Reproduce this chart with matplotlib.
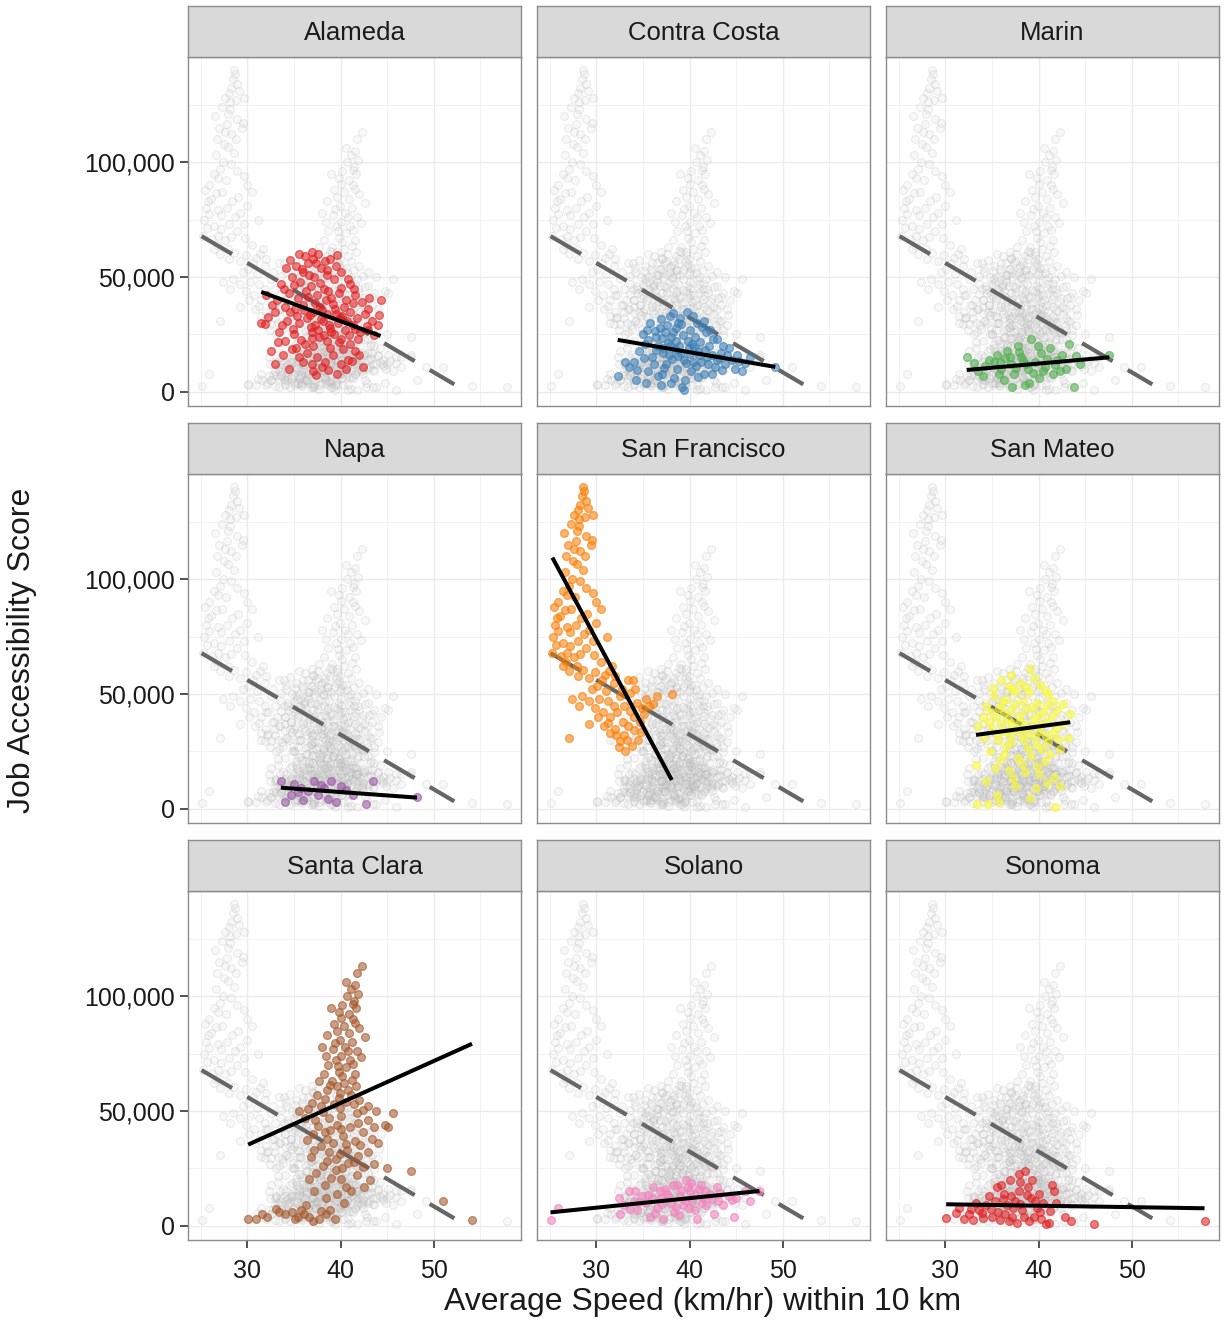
import numpy as np
import matplotlib.pyplot as plt
from matplotlib.ticker import FuncFormatter, FixedLocator

plt.rcParams['font.family'] = ['Liberation Sans', 'DejaVu Sans']

# county order as in the facets
counties = ['Alameda', 'Contra Costa', 'Marin', 'Napa', 'San Francisco',
            'San Mateo', 'Santa Clara', 'Solano', 'Sonoma']
county_colors = ['#E41A1C', '#377EB8', '#4DAF4A', '#984EA3', '#FF7F00',
                 '#FFFF33', '#A65628', '#F781BF', '#E41A1C']

# (average speed km/hr, job accessibility score in thousands)
alameda_pts = [
    (35.5, 60), (36.2, 59), (37.0, 58), (37.6, 60), (38.3, 57), (36.5, 56), (35.2, 55), (38.9, 58),
    (39.5, 55), (37.9, 54), (36.0, 52), (34.8, 50), (38.5, 51), (40.1, 52), (39.3, 49), (37.2, 50),
    (35.7, 48), (36.8, 46), (33.6, 47), (41.0, 47), (32.0, 42), (33.2, 40), (34.5, 43), (35.4, 41),
    (36.3, 44), (37.5, 42), (38.2, 45), (39.0, 41), (39.8, 43), (40.6, 40), (41.5, 42), (42.3, 39),
    (43.1, 41), (44.3, 40), (34.0, 37), (35.1, 36), (36.0, 38), (37.0, 35), (37.8, 37), (38.6, 34),
    (39.4, 36), (40.2, 33), (41.0, 35), (41.8, 32), (42.6, 34), (43.4, 31), (44.0, 29), (33.0, 35),
    (31.5, 30), (31.9, 29.5), (34.3, 31), (35.5, 30), (36.4, 32), (37.3, 29), (38.1, 31), (38.9, 28),
    (39.7, 30), (40.5, 27), (41.3, 29), (42.1, 26), (43.0, 27), (36.9, 26), (37.7, 24), (38.5, 22),
    (39.3, 25), (40.1, 23), (41.0, 21), (35.0, 25), (34.0, 22), (36.2, 21), (32.5, 18), (33.8, 16),
    (35.2, 19), (36.4, 17), (37.5, 15), (38.3, 13), (39.2, 16), (40.0, 12), (40.8, 14), (42.4, 11),
    (33.0, 12), (34.5, 10), (36.0, 13), (37.0, 9), (39.6, 8), (38.0, 11), (41.5, 18),
    (36.7, 33.4), (37.9, 31.8), (38.8, 29.3), (39.9, 32.6), (40.7, 30.9), (41.6, 27.4), (42.8, 28.7),
    (37.3, 38.6), (38.4, 40.2), (39.2, 38.1), (40.4, 36.9), (41.3, 38.8), (36.1, 35.7), (35.3, 33.2),
    (34.6, 34.8), (33.7, 29.1), (34.9, 27.6), (36.8, 28.3), (37.6, 26.9), (38.2, 24.9), (39.0, 26.2),
    (40.9, 24.6), (41.9, 23.1), (43.6, 24.8), (44.1, 33.6), (42.9, 36.2), (40.1, 45.3), (41.4, 44.6),
    (38.7, 43.8), (37.8, 47.4), (36.6, 50.9), (35.9, 53.7), (37.4, 56.3), (38.6, 53.2), (34.2, 53.8),
    (33.9, 44.6), (32.7, 37.9), (32.2, 32.4), (33.4, 26.3), (35.8, 22.7), (37.1, 19.8), (38.9, 19.2),
    (40.3, 18.6), (39.8, 21.7), (36.9, 23.4), (35.6, 15.4), (36.9, 12.1), (38.7, 9.6), (37.4, 7.2),
    (40.6, 9.8), (41.2, 13.6), (42.0, 15.9), (33.3, 21.8), (34.8, 18.9), (39.5, 33.9), (38.0, 35.8),
    (36.5, 41.2), (35.0, 46.4), (40.8, 49.1), (39.6, 59.7), (36.9, 61.0), (34.6, 57.4),
]
contra_costa_pts = [
    (32.3, 7), (33.5, 11), (34.0, 13), (34.6, 18), (35.2, 21), (35.6, 9), (36.0, 15), (36.4, 24),
    (36.8, 28), (37.2, 19), (37.5, 12), (37.9, 33), (38.2, 26), (38.5, 22), (38.8, 30), (39.1, 17),
    (39.4, 14), (39.7, 35), (40.0, 27), (40.3, 21), (40.6, 24), (40.9, 18), (41.2, 13), (41.5, 31),
    (41.8, 26), (42.1, 20), (42.4, 16), (42.7, 11), (43.0, 23), (43.4, 17), (43.8, 12), (44.2, 19),
    (44.6, 14), (45.1, 16), (45.6, 9), (46.5, 15), (49.2, 11), (35.0, 25), (35.8, 30), (36.6, 20),
    (37.0, 8), (37.8, 16), (38.3, 6), (38.7, 10), (39.2, 2), (39.5, 5), (40.2, 9), (40.8, 30),
    (41.6, 8), (42.2, 27), (38.0, 24), (39.9, 19), (41.0, 16), (36.2, 12), (37.4, 26), (38.9, 20),
    (34.3, 5), (35.3, 4), (36.9, 3), (40.4, 13), (43.6, 20), (44.9, 10), (39.0, 32), (37.6, 29),
    (42.9, 14),
    (36.3, 26.7), (37.1, 23.6), (37.7, 21.2), (38.4, 18.7), (38.6, 27.9), (39.3, 24.8), (39.8, 22.3),
    (40.5, 19.6), (40.1, 16.4), (41.1, 21.7), (41.7, 18.4), (42.5, 22.9), (43.2, 14.8), (42.0, 12.3),
    (40.7, 11.2), (39.6, 12.8), (38.1, 14.2), (37.2, 16.9), (36.4, 18.3), (35.6, 22.4), (35.4, 27.1),
    (36.9, 31.6), (38.2, 34.3), (40.4, 33.2), (41.3, 28.2), (39.1, 29.6), (37.9, 20.1), (38.8, 15.6),
    (41.9, 15.2), (44.0, 15.9), (45.3, 13.4), (46.0, 12.7), (43.5, 9.7), (33.1, 13.2), (34.4, 9.6),
    (35.1, 14.8), (36.6, 7.1), (38.0, 3.9), (39.4, 0.8), (40.9, 6.6), (42.4, 7.8), (37.3, 10.3),
]
marin_pts = [
    (32.3, 15), (33.5, 9), (34.0, 7), (34.7, 14), (35.2, 13), (35.5, 16), (36.0, 10), (36.3, 5),
    (36.6, 18), (37.0, 12), (37.4, 8), (37.8, 20), (38.1, 15), (38.5, 3), (38.9, 10), (39.2, 23),
    (39.6, 13), (40.0, 6), (40.3, 17), (40.7, 11), (41.2, 19), (41.6, 8), (42.0, 14), (42.5, 16),
    (43.0, 10), (43.3, 21), (43.8, 2), (44.5, 12), (47.6, 16), (35.8, 8), (37.2, 2), (39.0, 4),
    (40.5, 9), (38.3, 14), (36.9, 15),
    (33.1, 12.4), (34.3, 11.2), (35.9, 12.9), (36.4, 14.7), (37.6, 10.6), (38.7, 12.3), (39.4, 8.1),
    (40.9, 14.3), (41.8, 11.7), (42.3, 9.2), (44.0, 15.6), (37.9, 17.3), (39.9, 19.8),
]
napa_pts = [
    (33.6, 12), (34.0, 3), (34.7, 6), (35.0, 11), (35.8, 9), (36.5, 8), (37.2, 12), (37.6, 6),
    (38.2, 9), (39.0, 12), (39.5, 3), (40.1, 10), (41.3, 6), (42.7, 2), (43.5, 12), (48.2, 5),
    (36.0, 4), (35.4, 7.2), (37.9, 10.6), (38.7, 4.4), (40.6, 8.1),
]
san_francisco_pts = [
    (28.6, 140), (28.5, 136), (28.9, 134), (28.3, 132), (28.0, 130), (29.7, 128), (27.6, 128),
    (28.8, 127), (27.3, 124), (28.1, 123), (27.9, 121), (26.5, 120), (29.5, 117), (29.4, 115),
    (27.0, 115), (28.3, 112), (26.8, 110), (28.8, 110), (27.5, 108), (28.6, 104), (26.7, 103),
    (27.4, 100), (28.3, 99), (27.1, 97), (28.9, 96), (26.4, 95), (27.7, 92), (30.0, 90), (25.5, 88),
    (30.5, 87), (29.0, 85), (26.1, 84), (25.8, 83), (27.8, 80), (29.2, 78), (28.7, 76), (31.2, 75),
    (25.4, 75), (26.4, 72), (27.2, 71), (28.0, 73), (28.9, 70), (25.3, 68), (26.9, 68), (27.6, 66),
    (29.8, 67), (30.5, 64), (31.7, 62), (26.4, 62), (27.1, 60), (28.0, 58), (29.2, 57), (30.6, 56),
    (31.4, 60), (32.0, 58), (33.4, 56), (34.2, 52), (33.9, 56), (29.5, 52), (28.5, 49), (27.4, 48),
    (30.3, 48), (31.3, 47), (32.5, 49), (33.0, 45), (34.4, 46), (35.3, 48), (36.5, 49), (38.1, 50),
    (35.7, 45), (34.9, 44), (30.7, 42), (31.5, 40), (32.2, 42), (32.9, 38), (33.4, 36), (34.0, 40),
    (34.7, 38), (29.2, 37), (30.8, 36), (31.5, 33), (32.1, 32), (33.0, 32), (33.3, 30), (34.5, 30),
    (32.4, 27), (33.1, 25), (27.1, 31), (32.0, 35), (29.9, 44), (25.9, 90), (27.3, 87), (28.4, 83),
    (30.0, 81), (26.9, 79), (25.6, 80),
    (25.7, 71.4), (26.2, 66.5), (26.8, 64.1), (27.9, 62.3), (28.6, 60.4), (29.9, 59.6), (30.9, 58.2),
    (31.9, 54.6), (32.8, 52.1), (33.6, 50.4), (30.1, 53.4), (31.0, 51.1), (29.2, 47.1), (31.9, 44.8),
    (33.6, 42.6), (35.1, 41.4), (36.1, 45.8), (34.1, 34.2), (31.3, 37.6), (30.2, 39.9), (28.2, 44.6),
    (32.6, 29.6), (33.8, 27.4), (34.8, 33.6), (27.2, 76.8), (26.6, 86.4), (29.6, 73.2), (28.3, 67.2),
    (25.9, 77.6), (27.6, 113.2), (28.9, 118.6), (27.9, 106.5), (28.2, 126.1), (29.1, 130.8),
    (28.7, 138.1), (27.8, 116.4), (26.9, 93.2), (29.6, 93.8),
]
san_mateo_pts = [
    (39.1, 61), (39.5, 57), (36.0, 56), (38.0, 55), (40.2, 54), (37.2, 52), (39.0, 51), (41.0, 50),
    (35.2, 49), (36.5, 48), (38.3, 47), (39.8, 46), (41.6, 47), (34.4, 45), (35.8, 44), (37.0, 43),
    (38.6, 43), (40.5, 42), (42.0, 43), (34.0, 40), (35.4, 40), (36.7, 39), (38.0, 38), (39.4, 39),
    (40.8, 38), (42.5, 37), (33.5, 36), (35.0, 35), (36.2, 34), (37.5, 35), (39.0, 33), (40.2, 34),
    (41.5, 33), (43.2, 31), (34.2, 31), (35.7, 30), (37.0, 29), (38.4, 30), (39.8, 28), (41.0, 29),
    (42.3, 26), (34.8, 25), (36.3, 24), (37.8, 22), (39.2, 23), (40.7, 21), (33.3, 19), (35.3, 18),
    (36.8, 17), (38.5, 16), (40.0, 15), (41.7, 14), (37.5, 10), (39.7, 9), (35.5, 6), (33.4, 2),
    (34.6, 2), (35.8, 3), (41.8, 1), (42.3, 10),
    (35.1, 52.6), (36.8, 53.4), (37.6, 50.7), (38.7, 52.9), (40.7, 51.6), (36.1, 46.1), (37.5, 45.5),
    (39.3, 44.2), (40.9, 45.4), (42.6, 45.8), (34.9, 42.1), (36.3, 41.8), (37.9, 40.6), (39.9, 40.9),
    (41.4, 40.4), (43.4, 41.2), (34.7, 37.7), (36.0, 36.8), (37.1, 37.2), (38.7, 36.1), (40.1, 36.7),
    (41.9, 35.6), (35.5, 32.8), (36.9, 32.1), (38.1, 32.6), (39.6, 31.4), (40.8, 31.7), (42.1, 30.4),
    (36.5, 27.6), (38.9, 26.4), (40.4, 26.1), (35.9, 21.4), (38.2, 19.6), (39.8, 18.7), (41.2, 23.7),
    (37.3, 13.3), (34.4, 12.1), (40.9, 11.4), (39.1, 4.6), (37.0, 58.3),
]
santa_clara_pts = [
    (42.3, 113), (41.8, 110), (41.5, 105), (41.1, 103), (41.9, 101), (40.7, 100), (41.4, 98),
    (40.2, 96), (41.7, 95), (39.0, 95), (39.8, 93), (40.9, 92), (41.3, 90), (39.3, 88), (40.4, 87),
    (39.6, 85), (40.9, 84), (42.0, 86), (42.6, 82), (38.6, 83), (39.9, 81), (41.2, 80), (40.5, 78),
    (39.2, 77), (38.0, 78), (41.8, 76), (40.1, 74), (39.5, 72), (41.0, 72), (38.7, 70), (40.6, 69),
    (39.8, 67), (41.5, 66), (38.2, 66), (37.7, 63), (39.1, 63), (40.4, 62), (41.7, 61), (38.6, 59),
    (39.9, 58), (41.1, 57), (37.5, 57), (42.0, 55), (40.6, 54), (39.3, 53), (37.9, 52), (36.5, 51),
    (35.5, 50), (42.9, 52), (43.8, 50), (45.6, 49), (41.8, 49), (40.1, 48), (38.8, 47), (37.3, 46),
    (36.2, 47), (43.0, 46), (44.8, 44), (45.1, 43), (39.6, 44), (41.0, 43), (42.4, 41), (38.3, 41),
    (37.0, 40), (40.3, 39), (43.4, 38), (41.6, 37), (39.2, 36), (44.0, 36), (37.9, 35), (38.8, 32),
    (40.7, 33), (42.9, 32), (36.8, 30), (39.5, 29), (41.4, 28), (43.6, 27), (38.1, 26), (40.2, 25),
    (45.0, 25), (47.6, 24), (37.4, 23), (39.0, 21), (41.8, 22), (43.2, 20), (38.3, 18), (40.6, 17),
    (42.5, 17), (37.2, 15), (39.6, 14), (51.0, 11), (30.1, 3), (30.9, 3), (31.6, 5), (32.1, 4),
    (33.4, 6), (34.0, 5), (34.8, 6), (35.4, 4), (36.1, 5), (36.6, 4), (37.1, 2), (37.7, 3),
    (38.4, 5), (39.4, 3), (54.1, 2.6), (35.8, 7), (36.3, 9), (38.9, 7),
    (40.6, 106.1), (41.3, 96.7), (40.0, 90.4), (41.6, 88.1), (39.4, 79.6), (40.8, 76.2), (42.2, 73.3),
    (38.4, 74.1), (39.7, 69.8), (41.3, 70.4), (40.2, 65.1), (38.9, 61.5), (41.2, 63.6), (39.6, 60.9),
    (40.8, 59.3), (38.3, 55.2), (39.8, 55.7), (41.4, 53.1), (36.9, 53.6), (38.1, 49.7), (39.9, 51.2),
    (42.4, 50.3), (37.6, 43.3), (38.9, 41.7), (40.1, 42.1), (41.9, 44.6), (43.6, 43.1), (36.4, 37.6),
    (38.6, 37.9), (40.6, 35.8), (42.1, 35.1), (37.2, 33.2), (39.9, 31.1), (41.9, 30.6), (38.6, 28.1),
    (40.8, 27.2), (42.4, 25.6), (39.5, 24.4), (36.6, 20.4), (40.1, 20.3), (41.1, 15.3), (38.4, 12.1),
    (40.4, 9.8), (33.1, 7.4), (35.1, 3.1), (37.9, 6.6),
]
solano_pts = [
    (25.1, 2.6), (25.9, 7.7), (32.4, 12), (32.6, 5), (33.0, 9), (33.5, 15), (34.0, 11), (34.4, 7),
    (34.9, 13), (35.3, 10), (35.8, 4), (36.1, 17), (36.5, 8), (36.9, 12), (37.2, 3), (37.6, 14),
    (38.0, 10), (38.3, 6), (38.7, 18), (39.0, 13), (39.3, 9), (39.6, 20), (40.0, 15), (40.3, 11),
    (40.6, 7), (41.0, 16), (41.4, 12), (41.8, 9), (42.2, 14), (42.6, 5), (43.1, 11), (43.6, 9),
    (44.2, 13), (45.0, 12), (45.9, 15), (46.5, 11), (47.5, 15), (38.2, 18), (39.8, 17), (37.4, 16),
    (41.2, 18), (44.8, 4), (40.8, 3), (36.0, 12), (34.2, 15),
    (33.6, 7.2), (34.6, 10.4), (35.6, 13.6), (36.3, 5.6), (36.8, 15.3), (37.8, 12.4), (38.5, 8.3),
    (39.1, 15.6), (39.5, 11.1), (40.2, 18.9), (40.6, 13.5), (41.3, 9.8), (41.7, 15.4), (42.4, 11.8),
    (43.3, 14.2), (44.6, 11.3), (38.9, 4.6), (37.0, 9.6), (42.9, 17.1), (39.9, 7.9),
]
sonoma_pts = [
    (30.1, 3.6), (31.5, 8), (32.0, 3), (32.5, 5), (33.0, 2.5), (33.6, 7), (34.0, 3.5), (34.4, 9),
    (35.0, 4), (35.3, 11), (35.7, 6), (36.0, 18), (36.3, 14), (36.6, 9), (36.9, 20), (37.2, 4),
    (37.5, 11), (37.9, 15), (38.2, 7), (38.6, 24), (38.9, 17), (39.2, 12), (39.5, 4), (39.8, 8),
    (40.1, 14), (40.5, 10), (40.8, 1), (41.1, 1.5), (41.4, 18), (41.7, 15), (41.9, 10), (42.8, 4),
    (43.5, 2), (46.0, 1), (57.8, 2), (35.5, 17), (34.7, 13), (36.8, 2), (37.7, 1.5), (38.0, 19),
    (33.3, 10), (40.2, 6), (39.0, 2), (37.0, 13), (38.4, 4),
    (31.2, 5.6), (32.8, 7.3), (33.9, 5.8), (34.9, 7.4), (35.9, 2.8), (36.4, 5.4), (37.3, 7.9),
    (38.0, 9.6), (38.8, 13.4), (39.6, 10.7), (40.3, 2.9), (41.2, 6.7), (36.2, 11.6), (37.9, 22.4),
    (39.3, 19.8),
]
county_pts = [alameda_pts, contra_costa_pts, marin_pts, napa_pts, san_francisco_pts,
              san_mateo_pts, santa_clara_pts, solano_pts, sonoma_pts]

# linear fits per county (intercept and slope, thousands of jobs)
fit_intercept = [90.6, 45.1, -2.09, 19.21, 300.5, 14.04, -19.6, -4.5, 11.34]
fit_slope = [-1.495, -0.695, 0.361, -0.296, -7.556, 0.546, 1.827, 0.415, -0.063]

# region-wide fit (dashed)
overall_intercept = 127.5
overall_slope = -2.379
overall_span = [25.1, 52.2]

x_ticks = [30, 40, 50]
y_ticks = [0, 50000, 100000]

W, H = 1225, 1323
fig = plt.figure(figsize=(W / 100, H / 100), dpi=100)

col_left = [188, 537, 886]
panel_top = [57, 474, 891]
panel_w, panel_h, strip_h = 333, 349, 51

all_pts = np.array([p for pts in county_pts for p in pts])
all_x = all_pts[:, 0]
all_y = all_pts[:, 1] * 1000

ox = np.array(overall_span)
oy = (overall_intercept + overall_slope * ox) * 1000

for i, name in enumerate(counties):
    r, c = divmod(i, 3)
    left = col_left[c] / W
    bottom = (H - panel_top[r] - panel_h) / H
    ax = fig.add_axes([left, bottom, panel_w / W, panel_h / H])
    strip = fig.add_axes([left, (H - panel_top[r]) / H, panel_w / W, strip_h / H])

    # strip
    strip.set_facecolor('#d9d9d9')
    strip.set_xticks([])
    strip.set_yticks([])
    for sp in strip.spines.values():
        sp.set_color('#8c8c8c')
        sp.set_linewidth(1.0)
    strip.text(0.5, 0.47, name, ha='center', va='center', fontsize=18.5, color='#1a1a1a',
               transform=strip.transAxes)

    # background points: every county
    ax.scatter(all_x, all_y, s=32, facecolors=(0.8, 0.8, 0.8, 0.12),
               edgecolors=(0.68, 0.68, 0.68, 0.22), linewidths=0.8, zorder=2)

    ax.plot(ox, oy, color='#666666', lw=3.0, dashes=(8.5, 4.2), zorder=3,
            solid_capstyle='butt', dash_capstyle='butt')

    pts = np.array(county_pts[i])
    px = pts[:, 0]
    py = pts[:, 1] * 1000
    col = county_colors[i]
    ax.scatter(px, py, s=32, color=col, alpha=0.55, edgecolors=col, linewidths=0.9, zorder=4)

    lx = np.array([px.min(), px.max()])
    ly = (fit_intercept[i] + fit_slope[i] * lx) * 1000
    ax.plot(lx, ly, color='black', lw=2.9, zorder=5, solid_capstyle='butt')

    ax.set_xlim(23.65, 59.35)
    ax.set_ylim(-6100, 145700)
    ax.set_xticks(x_ticks)
    ax.set_yticks(y_ticks)
    ax.xaxis.set_minor_locator(FixedLocator([25, 35, 45, 55]))
    ax.yaxis.set_minor_locator(FixedLocator([25000, 75000, 125000]))
    ax.grid(True, which='major', color='#ebebeb', lw=1.0, zorder=0)
    ax.grid(True, which='minor', color='#f2f2f2', lw=0.7, zorder=0)
    ax.set_axisbelow(True)
    ax.yaxis.set_major_formatter(FuncFormatter(lambda v, p: f'{v:,.0f}'))
    ax.tick_params(which='minor', length=0)
    ax.tick_params(which='major', length=6, width=1.2, color='#333333',
                   labelsize=18, labelcolor='#1a1a1a')
    ax.tick_params(axis='y', pad=3.6)
    ax.tick_params(axis='x', pad=8)
    for sp in ax.spines.values():
        sp.set_color('#8c8c8c')
        sp.set_linewidth(1.0)
    if c != 0:
        ax.tick_params(left=False, labelleft=False)
    if r != 2:
        ax.tick_params(bottom=False, labelbottom=False)

fig.text(703 / W, (H - 1302) / H, 'Average Speed (km/hr) within 10 km',
         ha='center', va='center', fontsize=23, color='#1a1a1a')
fig.text(22 / W, (H - 650) / H, 'Job Accessibility Score', rotation=90,
         ha='center', va='center', fontsize=23, color='#1a1a1a')

fig.savefig('out.png', dpi=100)
